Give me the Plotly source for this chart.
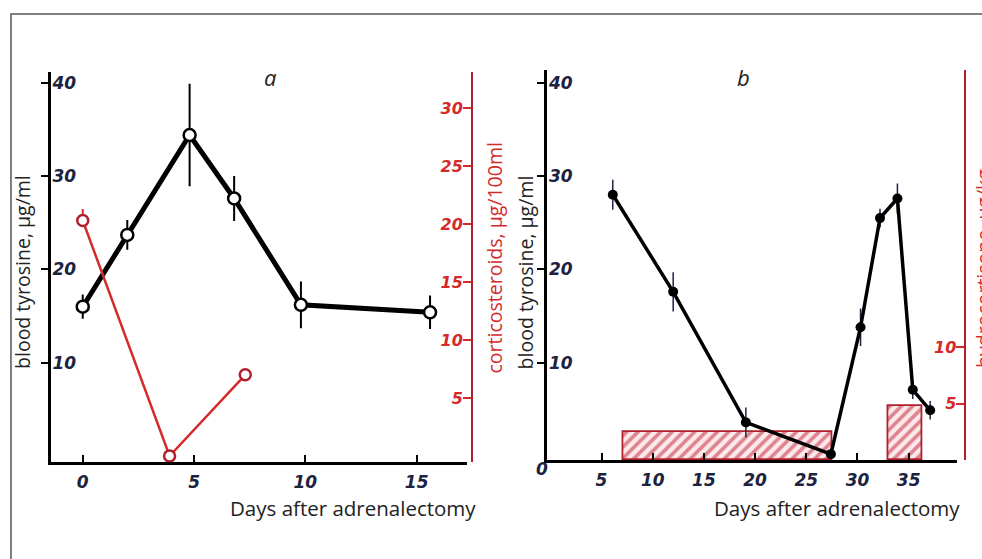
import plotly.graph_objects as go

W, H = 982, 559

# ---------------- data ----------------
# panel a: blood tyrosine (µg/ml)
a_days = [0, 2, 4.8, 6.8, 9.8, 15.6]
a_tyr = [16.0, 23.7, 34.4, 27.6, 16.2, 15.4]
a_tyr_err = [1.3, 1.6, 5.5, 2.4, 2.5, 1.8]
# panel a: corticosteroids (µg/100ml)
a_cort_days = [0, 3.9, 7.3]
a_cort = [20.3, 0.0, 7.0]
a_cort_err = [1.0, 0, 0]
# panel b: blood tyrosine (µg/ml)
b_days = [6.1, 12.0, 19.1, 27.4, 30.3, 32.2, 33.9, 35.4, 37.1]
b_tyr = [28.0, 17.6, 3.6, 0.2, 13.8, 25.5, 27.6, 7.1, 4.9]
b_tyr_err = [1.6, 2.1, 1.6, 0, 2.0, 1.0, 1.6, 1.0, 1.0]
# panel b: hydrocortisone dosing periods (µg/kg)
hc_center = [17.3, 34.65]
hc_width = [20.4, 3.3]
hc_dose = [2.5, 4.8]

a_xticks = [0, 5, 10, 15]
b_xticks = [0, 5, 10, 15, 20, 25, 30, 35]
tyr_ticks = [10, 20, 30, 40]
cort_ticks = [5, 10, 15, 20, 25, 30]
hc_ticks = [5, 10]

# ---------------- styling helpers ----------------
def px(p):
    return p / W

def py(p):
    return 1 - p / H

NAVY = "#1c2340"
RED = "#d42a2a"
DRED = "#b0202c"
tickfont_blk = dict(family="DejaVu Sans", size=17, color=NAVY, weight="bold", style="italic")
tickfont_red = dict(family="DejaVu Sans", size=16, color=RED, weight="bold", style="italic")

fig = go.Figure()

# panel a - tyrosine
fig.add_trace(go.Scatter(
    x=a_days, y=a_tyr, xaxis="x", yaxis="y", mode="lines+markers",
    line=dict(color="black", width=5),
    marker=dict(symbol="circle", size=12, color="white", line=dict(color="black", width=2.5)),
    error_y=dict(type="data", array=a_tyr_err, color="black", thickness=2, width=0),
    showlegend=False))
# panel a - corticosteroids
fig.add_trace(go.Scatter(
    x=a_cort_days, y=a_cort, xaxis="x", yaxis="y3", mode="lines+markers",
    line=dict(color=RED, width=2.5),
    marker=dict(symbol="circle", size=11, color="white", line=dict(color=DRED, width=2.5)),
    error_y=dict(type="data", array=a_cort_err, arrayminus=[0, 0, 0], color=RED, thickness=2, width=0),
    showlegend=False))
# panel b - hydrocortisone bars (base subplot)
fig.add_trace(go.Bar(
    x=hc_center, y=hc_dose, width=hc_width, xaxis="x2", yaxis="y2",
    marker=dict(color="#fbe9ee", line=dict(color=DRED, width=1.8),
                pattern=dict(shape="/", fgcolor="#c0202e", bgcolor="#fbe9ee", size=8, solidity=0.45)),
    showlegend=False))
# panel b - tyrosine (overlay, drawn above bars)
fig.add_trace(go.Scatter(
    x=b_days, y=b_tyr, xaxis="x2", yaxis="y4", mode="lines+markers",
    line=dict(color="black", width=3.5),
    marker=dict(symbol="circle", size=10, color="black"),
    error_y=dict(type="data", array=b_tyr_err, color="#1c2340", thickness=1.5, width=0),
    showlegend=False))

# axis ranges derived from pixel geometry
a_top, a_bot = 72, 462
b_top, b_bot = 70, 460
tyr0, tyr_k = 456, 9.33  # px of zero, px per unit
cort0, cort_k = 456, 11.6
hc0, hc_k = 460, 11.3

common_x = dict(showgrid=False, zeroline=False, showline=True, linecolor="black", linewidth=3,
                ticks="inside", ticklen=7, tickwidth=2, tickcolor="black", tickfont=tickfont_blk,
                ticklabelstandoff=3)
left_y = dict(showgrid=False, zeroline=False, showline=True, linecolor="black", linewidth=3,
              ticks="outside", ticklen=7, tickwidth=2, tickcolor="black", ticklabelposition="inside",
              tickfont=tickfont_blk, tickvals=tyr_ticks, ticklabelstandoff=2)
right_y = dict(showgrid=False, zeroline=False, showline=True, linecolor=DRED, linewidth=1.8,
               ticks="inside", ticklen=8, tickwidth=2, tickcolor=RED, ticklabelposition="inside",
               tickfont=tickfont_red, side="right", anchor="free", ticklabelstandoff=0)

fig.update_layout(
    width=W, height=H, margin=dict(l=0, r=0, t=0, b=0),
    paper_bgcolor="white", plot_bgcolor="rgba(0,0,0,0)",
    xaxis=dict(domain=[px(48), px(465)], range=[(48 - 80) / 22.33, (465 - 80) / 22.33],
               tickvals=a_xticks, anchor="y", **common_x),
    yaxis=dict(domain=[py(a_bot), py(a_top)],
               range=[(tyr0 - a_bot) / tyr_k, (tyr0 - a_top) / tyr_k], anchor="x", **left_y),
    yaxis3=dict(overlaying="y", position=px(470), tickvals=cort_ticks,
                range=[(cort0 - a_bot) / cort_k, (cort0 - a_top) / cort_k], **right_y),
    xaxis2=dict(domain=[px(546), px(957)], range=[(546 - 549) / 10.27, (957 - 549) / 10.27],
                tickvals=b_xticks, anchor="y2", **common_x),
    yaxis2=dict(domain=[py(b_bot), py(b_top)], position=px(965), tickvals=hc_ticks,
                range=[(hc0 - b_bot) / hc_k, (hc0 - b_top) / hc_k], **right_y),
    yaxis4=dict(overlaying="y2", anchor="x2", side="left",
                range=[(tyr0 - b_bot) / tyr_k, (tyr0 - b_top) / tyr_k], **left_y),
    bargap=0,
)

ann = []
def text(t, x, y, size=19, color="#222222", angle=0, xanchor="center", style="normal",
         family="Open Sans", weight="normal"):
    ann.append(dict(text=t, x=px(x), y=py(y), xref="paper", yref="paper", showarrow=False,
                    textangle=angle, xanchor=xanchor, yanchor="middle",
                    font=dict(family=family, size=size, color=color, style=style, weight=weight)))

text("blood tyrosine, µg/ml", 19, 272, size=19.5, angle=-90)
text("corticosteroids, µg/100ml", 493, 258, size=19.5, color=RED, angle=-90)
text("blood tyrosine, µg/ml", 524, 272, size=19.5, angle=-90)
text("hydrocortisone, µg/kg", 983, 268, size=19.5, color=RED, angle=-90)
text("Days after adrenalectomy", 476, 508, size=20.5, xanchor="right")
text("Days after adrenalectomy", 962, 508, size=20.5, xanchor="right")
text("a", 268, 77, size=22, style="italic")
text("b", 743, 77, size=22, style="italic")
# origin label of panel b (plotly hides it because of the inside y labels)
text(str(b_xticks[0]), 541, 469, size=17, color=NAVY, style="italic", family="DejaVu Sans", weight="bold")
fig.update_layout(annotations=ann)

fig.add_shape(type="rect", xref="paper", yref="paper", x0=px(8), x1=1.2, y0=-0.2, y1=py(14),
              line=dict(color="#555555", width=1.5), fillcolor="rgba(0,0,0,0)", layer="below")

fig.write_html("out.html", config=dict(responsive=False, displayModeBar=False),
               post_script="document.body.style.margin='0';document.body.style.overflow='hidden';")
